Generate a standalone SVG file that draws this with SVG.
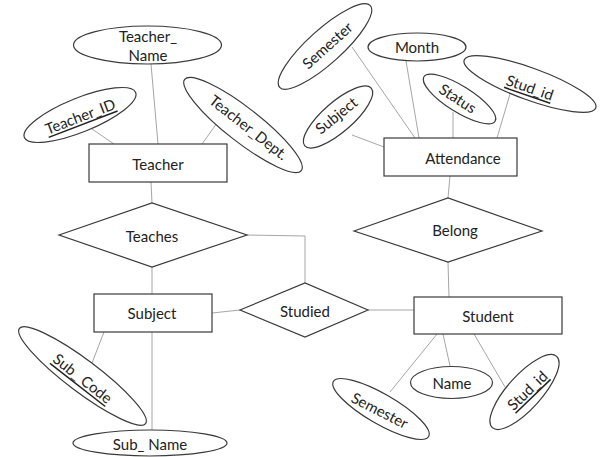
<svg xmlns="http://www.w3.org/2000/svg" width="600" height="457" viewBox="0 0 600 457">
<style>
.s{fill:#fff;stroke:#3a3a3a;stroke-width:1.2}
.c{stroke:#a6a6a6;stroke-width:1;fill:none}
text{font-family:Lato,"Liberation Sans",sans-serif;font-size:15px;fill:#222;text-anchor:middle;dominant-baseline:central}
.u{text-decoration:underline}
</style>
<rect width="600" height="457" fill="#fff"/>
<g id="connectors">
<line class="c" x1="92" y1="129" x2="114" y2="144"/>
<line class="c" x1="151" y1="64" x2="158" y2="144"/>
<line class="c" x1="217" y1="123" x2="202" y2="144"/>
<line class="c" x1="151" y1="182" x2="152" y2="203"/>
<polyline class="c" points="247,235 305,236 305,283"/>
<line class="c" x1="152" y1="267" x2="152" y2="294"/>
<line class="c" x1="212" y1="313" x2="240" y2="310"/>
<line class="c" x1="368" y1="310" x2="414" y2="310"/>
<line class="c" x1="104" y1="332" x2="92" y2="363"/>
<line class="c" x1="152" y1="332" x2="152" y2="431"/>
<line class="c" x1="352" y1="47" x2="415" y2="138"/>
<line class="c" x1="406" y1="61" x2="419" y2="138"/>
<line class="c" x1="453" y1="112" x2="453" y2="138"/>
<line class="c" x1="510" y1="94" x2="497" y2="138"/>
<line class="c" x1="352" y1="135" x2="384" y2="147"/>
<line class="c" x1="450" y1="176" x2="448" y2="198"/>
<line class="c" x1="448" y1="262" x2="449" y2="297"/>
<line class="c" x1="437" y1="334" x2="390" y2="392"/>
<line class="c" x1="443" y1="334" x2="450" y2="366"/>
<line class="c" x1="474" y1="334" x2="505" y2="387"/>
</g>
<g id="teacher_name"><ellipse class="s" cx="147.5" cy="45" rx="74" ry="19"/><text x="148" y="36">Teacher_</text><text x="148" y="55">Name</text></g>
<g id="teacher_id"><ellipse class="s" cx="80" cy="115" rx="60" ry="17" transform="rotate(-22 80 115)"/><text class="u" x="80" y="116" transform="rotate(-21 80 116)">Teacher_ID</text></g>
<g id="teacher_dept"><ellipse class="s" cx="243" cy="125" rx="74" ry="17" transform="rotate(38 243 125)"/><text x="249" y="127" transform="rotate(38 249 127)">Teacher_Dept.</text></g>
<g id="teacher"><rect class="s" x="89" y="144" width="138" height="38"/><text x="158" y="164">Teacher</text></g>
<g id="teaches"><polygon class="s" points="59,235 152,203 247,235 152,267"/><text x="152" y="236">Teaches</text></g>
<g id="subject"><rect class="s" x="94" y="294" width="118" height="38"/><text x="152" y="313">Subject</text></g>
<g id="studied"><polygon class="s" points="240,310 305,283 368,310 305,337"/><text x="305" y="311">Studied</text></g>
<g id="sub_code"><ellipse class="s" cx="82.5" cy="376" rx="79" ry="16" transform="rotate(37 82.5 376)"/><text class="u" x="83" y="378" transform="rotate(38 83 378)">Sub_ Code</text></g>
<g id="sub_name"><ellipse class="s" cx="150" cy="443" rx="77" ry="13"/><text x="150" y="444">Sub_ Name</text></g>
<g id="semester_a"><ellipse class="s" cx="325" cy="46.5" rx="61" ry="17" transform="rotate(-42 325 46.5)"/><text x="327" y="45" transform="rotate(-42 327 45)">Semester</text></g>
<g id="subject_a"><ellipse class="s" cx="338" cy="117" rx="44" ry="15" transform="rotate(-41 338 117)"/><text x="336" y="115" transform="rotate(-39 336 115)">Subject</text></g>
<g id="month"><ellipse class="s" cx="417" cy="47" rx="49" ry="14"/><text x="417" y="47">Month</text></g>
<g id="status"><ellipse class="s" cx="459.5" cy="99" rx="42" ry="13" transform="rotate(32 459.5 99)"/><text x="458" y="98" transform="rotate(33 458 98)">Status</text></g>
<g id="stud_id_a"><ellipse class="s" cx="530" cy="84" rx="70" ry="16" transform="rotate(20 530 84)"/><text class="u" x="530" y="87" transform="rotate(19 530 87)">Stud_id</text></g>
<g id="attendance"><rect class="s" x="384" y="138" width="133" height="38"/><text x="463" y="158">Attendance</text></g>
<g id="belong"><polygon class="s" points="354,231 448,198 542,231 448,262"/><text x="455" y="230">Belong</text></g>
<g id="student"><rect class="s" x="414" y="297" width="148" height="37"/><text x="488" y="316">Student</text></g>
<g id="semester_s"><ellipse class="s" cx="381" cy="409" rx="55" ry="15" transform="rotate(30 381 409)"/><text x="380" y="410" transform="rotate(27 380 410)">Semester</text></g>
<g id="name"><ellipse class="s" cx="451.5" cy="382.5" rx="41" ry="16"/><text x="452" y="383">Name</text></g>
<g id="stud_id_s"><ellipse class="s" cx="524.5" cy="392" rx="48" ry="17" transform="rotate(-48 524.5 392)"/><text class="u" x="527" y="390" transform="rotate(-44 527 390)">Stud_id</text></g>
</svg>
